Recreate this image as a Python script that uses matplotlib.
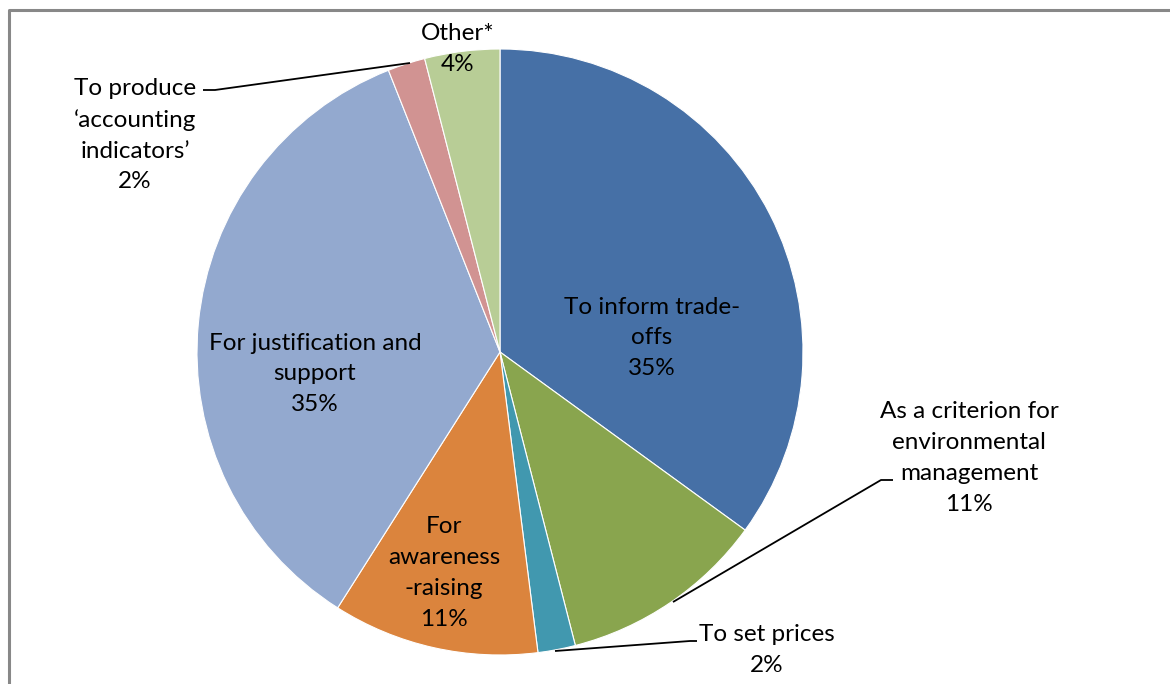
import matplotlib.pyplot as plt

# survey responses: purposes of valuation (share of responses, %)
labels = ['To inform trade-\noffs', 'As a criterion for\nenvironmental\nmanagement',
          'To set prices', 'For\nawareness\n-raising', 'For justification and\nsupport',
          'To produce\n\u2018accounting\nindicators\u2019', 'Other*']
shares = [35, 11, 2, 11, 35, 2, 4]
colors = ['#4670A6', '#89A54E', '#4198AF', '#DB843D', '#93A9CF', '#D19392', '#B8CD96']

W, H = 1170, 684
plt.rcParams['font.family'] = ['Lato', 'DejaVu Sans']

fig = plt.figure(figsize=(W / 100, H / 100), dpi=100)
ax = fig.add_axes([0, 0, 1, 1])

def py(y):
    # screen-style y (from top) -> axes y
    return H - y

cx, cy, r = 500, 352, 303
ax.pie(shares, colors=colors, startangle=90, counterclock=False,
       center=(cx, py(cy)), radius=r, frame=True,
       wedgeprops=dict(edgecolor='white', linewidth=0.8))
ax.set_xlim(0, W)
ax.set_ylim(0, H)
ax.set_aspect('equal')
ax.axis('off')

# label centres in pixels
pos = [(652, 338), (969, 458), (767, 650), (444, 573), (315, 374), (135, 135), (458, 49)]
for lab, val, (x, y) in zip(labels, shares, pos):
    ax.text(x, py(y), '{}\n{}%'.format(lab, val), ha='center', va='center',
            fontsize=17.5, linespacing=1.58, color='black')

# leader lines
leaders = [
    [(203, 90), (215, 90), (410, 63)],
    [(893, 480), (881, 480), (673, 602)],
    [(697, 641), (690, 641), (555, 651)],
]
for pts in leaders:
    xs = [p[0] for p in pts]
    ys = [py(p[1]) for p in pts]
    ax.plot(xs, ys, color='black', lw=1.3, solid_capstyle='butt')

# chart frame (top and left edges visible)
ax.plot([8.5, 8.5, W], [0, py(9.5), py(9.5)], color='#888888', lw=2.2)

fig.savefig('out.png', dpi=100)
